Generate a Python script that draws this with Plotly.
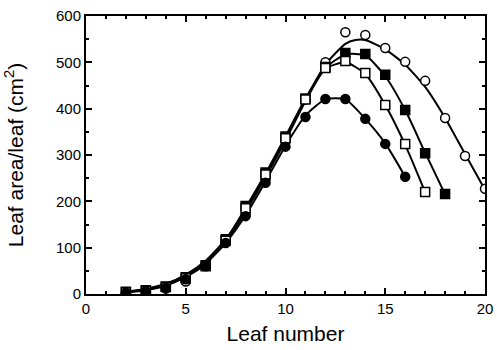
import plotly.graph_objects as go

# Leaf numbers for each series
leaf_oc = list(range(2, 21))   # open circles
leaf_fs = list(range(2, 19))   # filled squares
leaf_os = list(range(2, 18))   # open squares
leaf_fc = list(range(2, 17))   # filled circles

# Measured leaf area per leaf (cm2)
area_oc = [2, 5, 12, 27, 62, 112, 172, 248, 330, 420, 500, 565, 559, 531, 501, 460, 380, 298, 227]
area_fs = [5, 8, 16, 36, 62, 118, 190, 262, 340, 422, 490, 520, 518, 473, 397, 304, 216]
area_os = [4, 7, 15, 34, 60, 115, 185, 258, 336, 420, 488, 503, 477, 408, 324, 220]
area_fc = [3, 6, 14, 32, 60, 110, 168, 240, 318, 382, 421, 421, 378, 324, 253]

# Fitted curves
fit_x_oc = [2, 3, 4, 5, 6, 7, 8, 9, 10, 11, 12, 13, 13.5, 14, 15, 16, 17, 18, 19, 20]
fit_oc = [5, 11, 22, 42, 72, 118, 182, 256, 336, 420, 495, 540, 548, 548, 528, 495, 447, 380, 302, 225]
fit_x_fs = [2, 3, 4, 5, 6, 7, 8, 9, 10, 11, 12, 13, 14, 15, 16, 17, 18]
fit_fs = [3, 8, 18, 37, 65, 116, 186, 260, 340, 422, 488, 517, 515, 470, 397, 305, 215]
fit_x_os = [2, 3, 4, 5, 6, 7, 8, 9, 10, 11, 12, 13, 14, 15, 16, 17]
fit_os = [4, 9, 19, 39, 67, 112, 178, 252, 332, 416, 486, 500, 475, 408, 322, 220]
fit_x_fc = [2, 3, 4, 5, 6, 7, 8, 9, 10, 11, 12, 13, 14, 15, 16]
fit_fc = [4, 10, 20, 40, 66, 110, 170, 243, 320, 385, 420, 420, 378, 325, 253]

FONT = "Liberation Sans, Arial, Helvetica, sans-serif"

fig = go.Figure()

for fx, fy in [(fit_x_oc, fit_oc), (fit_x_fs, fit_fs), (fit_x_os, fit_os), (fit_x_fc, fit_fc)]:
    fig.add_trace(go.Scatter(x=fx, y=fy, mode="lines",
                             line=dict(color="black", width=2, shape="spline", smoothing=0.6),
                             hoverinfo="skip", showlegend=False))

mk = [
    (leaf_oc, area_oc, "circle", "white"),
    (leaf_fs, area_fs, "square", "black"),
    (leaf_os, area_os, "square", "white"),
    (leaf_fc, area_fc, "circle", "black"),
]
for lx, ly, sym, fill in mk:
    fig.add_trace(go.Scatter(x=lx, y=ly, mode="markers",
                             marker=dict(symbol=sym, size=9, color=fill,
                                         line=dict(color="black", width=1.5)),
                             showlegend=False))

axis_common = dict(showgrid=False, zeroline=False, showline=True, linecolor="black",
                   linewidth=2, mirror="ticks", ticks="inside", tickcolor="black",
                   tickwidth=1.5, automargin=False,
                   tickfont=dict(family=FONT, size=15, color="black"))

fig.update_xaxes(range=[0, 20], dtick=5, tick0=0, ticklen=6,
                 minor=dict(dtick=1, ticks="inside", ticklen=3, tickcolor="black", tickwidth=1.5),
                 title=dict(text="Leaf number", standoff=10,
                            font=dict(family=FONT, size=21, color="black")),
                 **axis_common)
fig.update_yaxes(range=[0, 600], dtick=100, tick0=0, ticklen=6,
                 minor=dict(dtick=50, ticks="inside", ticklen=3, tickcolor="black", tickwidth=1.5),
                 title=dict(text="Leaf area/leaf (cm<sup>2</sup>)", standoff=27,
                            font=dict(family=FONT, size=21, color="black")),
                 **axis_common)

fig.update_layout(width=497, height=350, margin=dict(l=86, r=12, t=16, b=56),
                  plot_bgcolor="white", paper_bgcolor="white")

fig.write_html("out.html")
